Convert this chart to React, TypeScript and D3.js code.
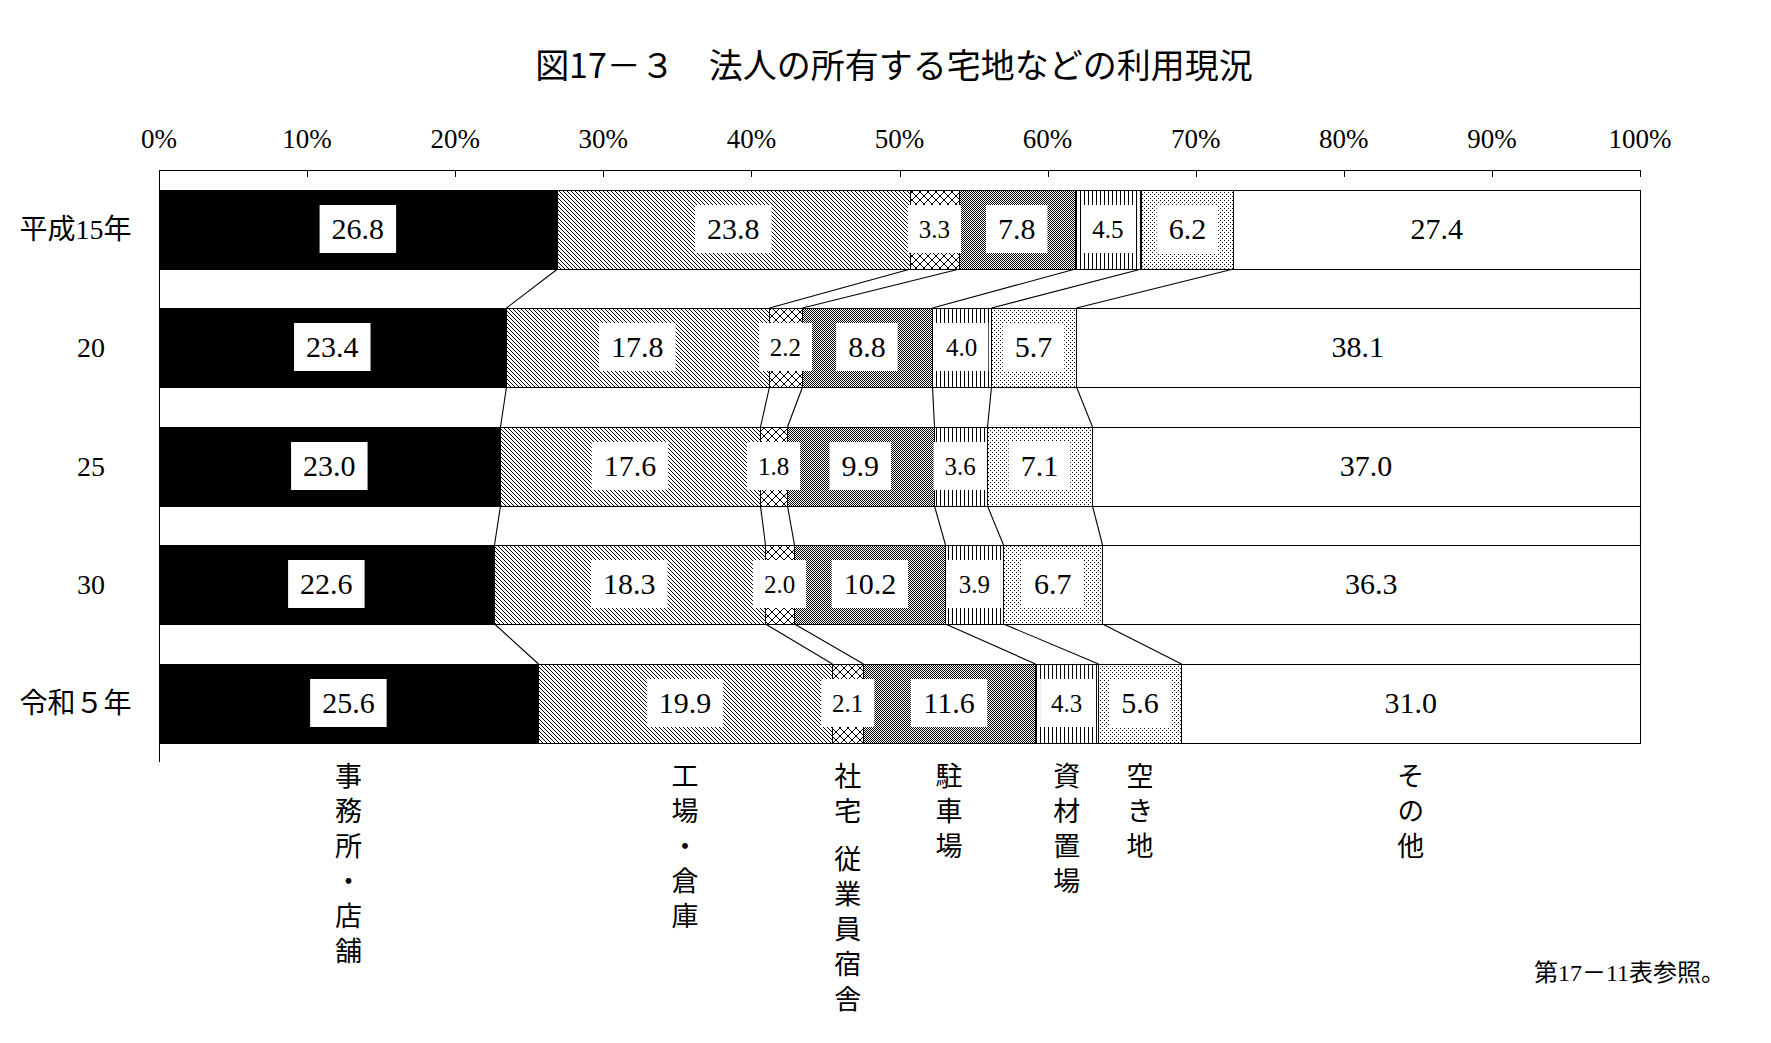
import React from "react";
import * as d3 from "d3";

// ---------- data ----------
const title = "図17－３　法人の所有する宅地などの利用現況";
const footnote = "第17－11表参照。";
const categories = ["事務所・店舗", "工場・倉庫", "社宅 従業員宿舎", "駐車場", "資材置場", "空き地", "その他"];
const years = ["平成15年", "20", "25", "30", "令和５年"];
const valuesH15 = [26.8, 23.8, 3.3, 7.8, 4.5, 6.2, 27.4];
const valuesH20 = [23.4, 17.8, 2.2, 8.8, 4.0, 5.7, 38.1];
const valuesH25 = [23.0, 17.6, 1.8, 9.9, 3.6, 7.1, 37.0];
const valuesH30 = [22.6, 18.3, 2.0, 10.2, 3.9, 6.7, 36.3];
const valuesR5 = [25.6, 19.9, 2.1, 11.6, 4.3, 5.6, 31.0];
const xTicks = [0, 10, 20, 30, 40, 50, 60, 70, 80, 90, 100];

// ---------- styles ----------
const catFill = ["#000", "url(#pDiag)", "url(#pCross)", "url(#pChecker)", "url(#pVert)", "url(#pDots)", "#fff"];
const catSmallLabel = [false, false, true, false, true, false, false];

const W = 1771;
const H = 1043;
const SERIF = "'Liberation Serif', 'Noto Sans CJK JP', serif";
const CJK = "'Noto Sans CJK JP', sans-serif";

function pixelPattern(id: string, w: number, h: number, pts: [number, number][]) {
  return (
    <pattern id={id} key={id} patternUnits="userSpaceOnUse" x={0} y={0} width={w} height={h}>
      <rect x={0} y={0} width={w} height={h} fill="#fff" />
      {pts.map(([px, py], i) => (
        <rect key={i} x={px} y={py} width={1} height={1} fill="#000" />
      ))}
    </pattern>
  );
}

export default function App() {
  const rows = [valuesH15, valuesH20, valuesH25, valuesH30, valuesR5];
  const x = d3.scaleLinear().domain([0, 100]).range([159, 1640]);
  const y = d3.scaleBand<string>().domain(years).range([190, 742.6]).paddingInner(0.333).paddingOuter(0);
  const bw = y.bandwidth();
  const fmt = d3.format(".1f");

  // cumulative boundaries (normalized to 100%)
  const cums = rows.map((r) => {
    const s = d3.sum(r);
    const c = [0];
    r.forEach((v) => c.push(c[c.length - 1] + (v / s) * 100));
    return c;
  });

  const crisp = (v: number) => Math.round(v) + 0.5;

  const diagPts: [number, number][] = [0, 1, 2, 3].map((i) => [i, i]);
  const crossPts: [number, number][] = [];
  for (let i = 0; i < 8; i++) {
    crossPts.push([i, i]);
    if (7 - i !== i) crossPts.push([7 - i, i]);
  }
  const checkerPts: [number, number][] = [[0, 0], [1, 1]];
  const vertPts: [number, number][] = [[0, 0]];
  const dotPts: [number, number][] = [[0, 0], [2, 2]];

  const lastCum = cums[cums.length - 1];
  const vFont = 27;
  const vPitch = 35;

  return (
    <svg
      width={W}
      height={H}
      viewBox={`0 0 ${W} ${H}`}
      style={{ position: "absolute", left: 0, top: 0, background: "#fff" }}
    >
      <defs>
        {pixelPattern("pDiag", 4, 4, diagPts)}
        {pixelPattern("pCross", 8, 8, crossPts)}
        {pixelPattern("pChecker", 2, 2, checkerPts)}
        {pixelPattern("pVert", 4, 1, vertPts)}
        {pixelPattern("pDots", 4, 4, dotPts)}
      </defs>
      <rect x={0} y={0} width={W} height={H} fill="#fff" />

      {/* title */}
      <text x={894} y={63} fontFamily={CJK} fontSize={34} fontWeight={400} textAnchor="middle" dominantBaseline="central" fill="#000">
        {title}
      </text>

      {/* top axis */}
      <line x1={x(0)} x2={x(100)} y1={170.5} y2={170.5} stroke="#000" strokeWidth={1} />
      {xTicks.map((t) => (
        <g key={t}>
          <line x1={crisp(x(t))} x2={crisp(x(t))} y1={170} y2={177} stroke="#000" strokeWidth={1} />
          <text x={x(t)} y={148} fontFamily={SERIF} fontSize={27} textAnchor="middle" fill="#000">
            {t}%
          </text>
        </g>
      ))}
      {/* left axis */}
      <line x1={crisp(x(0))} x2={crisp(x(0))} y1={170} y2={762} stroke="#000" strokeWidth={1} />

      {/* connectors */}
      {cums.slice(0, -1).map((c, i) => {
        const next = cums[i + 1];
        const yb = Math.round((y(years[i]) as number) + bw);
        const yt = Math.round(y(years[i + 1]) as number);
        return c.slice(1).map((b, k) => (
          <line
            key={`c${i}-${k}`}
            x1={crisp(x(b))}
            y1={yb}
            x2={crisp(x(next[k + 1]))}
            y2={yt}
            stroke="#000"
            strokeWidth={1.1}
          />
        ));
      })}

      {/* bars */}
      {rows.map((r, i) => {
        const c = cums[i];
        const y0 = Math.round(y(years[i]) as number);
        const y1 = Math.round((y(years[i]) as number) + bw);
        return (
          <g key={`r${i}`}>
            {r.map((v, k) => {
              const xa = Math.round(x(c[k]));
              const xb = Math.round(x(c[k + 1]));
              return (
                <rect
                  key={k}
                  x={xa + 0.5}
                  y={y0 + 0.5}
                  width={xb - xa}
                  height={y1 - y0}
                  fill={catFill[k]}
                  stroke="#000"
                  strokeWidth={1}
                />
              );
            })}
            {r.map((v, k) => {
              const cx = (x(c[k]) + x(c[k + 1])) / 2;
              const small = catSmallLabel[k];
              const fs = small ? 25 : 30;
              const label = fmt(v);
              const tw = label.length * 0.5 * fs - (label.includes(".") ? 0.25 * fs : 0);
              const boxW = tw + (small ? 22 : 24);
              const cy = y0 + (y1 - y0) / 2;
              return (
                <g key={`l${k}`}>
                  <rect x={cx - boxW / 2} y={y0 + 15} width={boxW} height={48} fill="#fff" />
                  <text x={cx} y={cy + 0.33 * fs} fontFamily={SERIF} fontSize={fs} textAnchor="middle" fill="#000">
                    {label}
                  </text>
                </g>
              );
            })}
            {/* row label */}
            <text
              x={/^\d+$/.test(years[i]) ? 91 : 75.5}
              y={(y0 + y1) / 2 + 9.5}
              fontFamily={SERIF}
              fontSize={28}
              textAnchor="middle"
              fill="#000"
            >
              {years[i]}
            </text>
          </g>
        );
      })}

      {/* vertical category labels */}
      {categories.map((cat, k) => {
        const cx = (x(lastCum[k]) + x(lastCum[k + 1])) / 2;
        const parts = cat.split(" ");
        let top = 762;
        return (
          <g key={`v${k}`}>
            {parts.map((p, j) => {
              const el = (
                <text
                  key={j}
                  x={cx}
                  y={top}
                  fontFamily={CJK}
                  fontSize={vFont}
                  letterSpacing={vPitch - vFont}
                  style={{ writingMode: "vertical-rl" } as React.CSSProperties}
                  fill="#000"
                >
                  {p}
                </text>
              );
              top += Array.from(p).length * vPitch + 13;
              return el;
            })}
          </g>
        );
      })}

      {/* footnote */}
      <text x={1725} y={981} fontFamily={SERIF} fontSize={24} textAnchor="end" fill="#000">
        {footnote}
      </text>
    </svg>
  );
}
